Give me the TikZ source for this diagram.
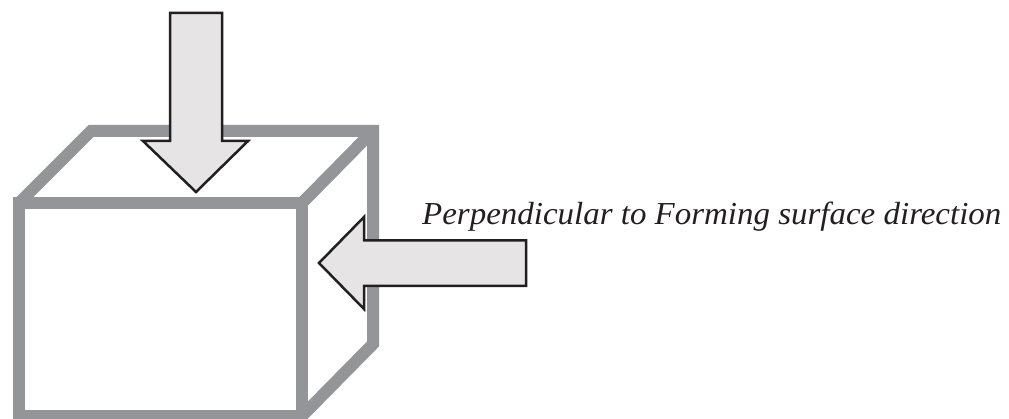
\documentclass[tikz,border=0pt]{standalone}
\usepackage{fontspec}
\setmainfont[FakeStretch=1.03]{Liberation Serif}
\definecolor{boxgrey}{HTML}{939598}
\definecolor{arrowfill}{HTML}{E6E4E5}
\definecolor{inkdark}{HTML}{231F20}
\tikzset{
  boxline/.style={draw=boxgrey,line width=12pt,miter limit=10},
  bigarrow/.style={draw=inkdark,fill=arrowfill,line width=2.5pt,miter limit=10},
  caption/.style={anchor=base west,inner sep=0pt,text=inkdark,font=\fontsize{32}{36}\selectfont\itshape}
}
\begin{document}
\begin{tikzpicture}[x=1pt,y=-1pt]
\useasboundingbox (0,0) rectangle (1009,419);
\begin{scope}
\clip (0,0) rectangle (1009,419);
\fill[white] (0,0) rectangle (1009,419);
% cube
\draw[boxline] (19,203) rectangle (302,416);
\draw[boxline] (19,203) -- (91,131) -- (373,131) -- (373,344) -- (302,416);
\draw[boxline] (302,203) -- (373,131);
% arrows
\draw[bigarrow] (170,13) -- (222,13) -- (222,141) -- (248,141) -- (196,192) -- (143,141) -- (170,141) -- cycle;
\draw[bigarrow] (526,240.5) -- (364,240.5) -- (364,217) -- (319,263) -- (364,309) -- (364,286) -- (526,286) -- cycle;
\end{scope}
\node[caption] (label) at (422,225) {Perpendicular to Forming surface direction};
\end{tikzpicture}
\end{document}
